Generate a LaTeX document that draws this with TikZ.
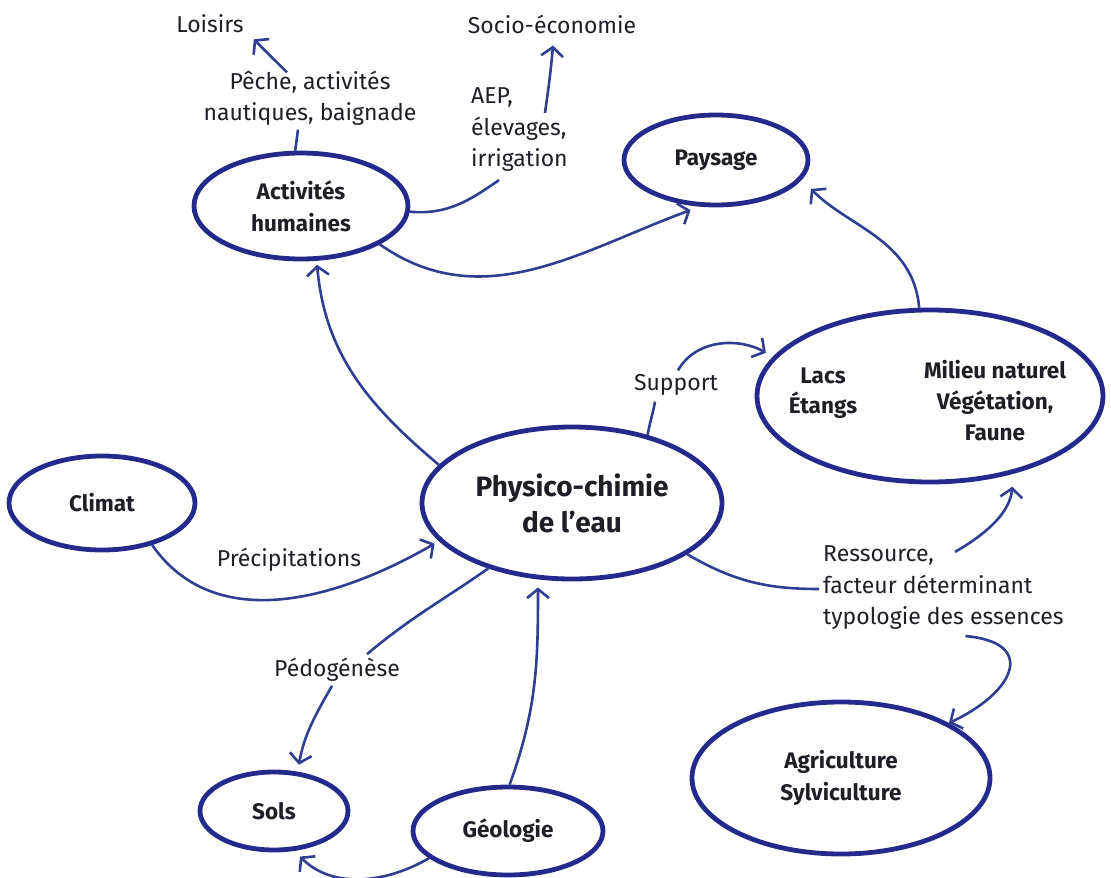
\documentclass[tikz,border=0pt]{standalone}
\usepackage{fontspec}
\setmainfont{Fira Sans}
\usetikzlibrary{arrows.meta,shapes.geometric,calc}
\definecolor{ellc}{RGB}{35,42,140}
\definecolor{arrc}{RGB}{48,62,145}
\definecolor{txtc}{RGB}{30,30,38}
\begin{document}
\begin{tikzpicture}[x=1pt,y=1pt,
  ell/.style={ellipse,draw=ellc,line width=4.8pt,inner sep=0pt,font=\fontsize{22.5}{32}\selectfont\bfseries,text=txtc,align=center},
  lbl/.style={font=\fontsize{23}{31.5}\selectfont,text=txtc,inner sep=2pt},
  conn/.style={draw=arrc,line width=2.6pt},
  arr/.style={conn,-{Straight Barb[length=9pt,width=22pt]}}
]
\useasboundingbox (0,0) rectangle (1111,-878);
% ellipses
\node[ell,minimum width=214pt,minimum height=106pt] (act) at (301,-206) {Activités\\humaines};
\node[ell,minimum width=184pt,minimum height=90pt] (pays) at (716,-160) {Paysage};
\node[ell,minimum width=346pt,minimum height=172pt] (lacs) at (930,-396) {};
\node[font=\fontsize{22.5}{30}\selectfont\bfseries,text=txtc,align=center] (lacst) at (823,-393) {Lacs\\Étangs};
\node[font=\fontsize{22.5}{31}\selectfont\bfseries,text=txtc,align=center] (milt) at (995,-401) {Milieu naturel\\Végétation,\\Faune};
\node[ell,minimum width=300pt,minimum height=152pt,font=\fontsize{28}{36}\selectfont\bfseries] (phys) at (572,-503) {Physico-chimie\\de l’eau};
\node[ell,minimum width=186pt,minimum height=94pt] (clim) at (102,-503) {Climat};
\node[ell,minimum width=148pt,minimum height=78pt] (sols) at (274,-811) {Sols};
\node[ell,minimum width=190pt,minimum height=88pt] (geol) at (508,-831) {Géologie};
\node[ell,minimum width=298pt,minimum height=152pt] (agri) at (841,-778) {Agriculture\\Sylviculture};
% labels
\node[lbl] (loisirs) at (210,-24) {Loisirs};
\node[lbl] (socio) at (552,-24) {Socio-économie};
\node[lbl,align=center] (peche) at (310,-98) {Pêche, activités\\nautiques, baignade};
\node[lbl,align=left,anchor=west] (aep) at (469,-130) {AEP,\\élevages,\\irrigation};
\node[lbl] (support) at (676,-385) {Support};
\node[lbl] (precip) at (289,-560) {Précipitations};
\node[lbl] (pedo) at (337,-670) {Pédogénèse};
\node[lbl,align=left,anchor=west] (ress) at (821,-588) {Ressource,\\facteur déterminant\\typologie des essences};
% connectors
\draw[conn] (act.96) -- ($(peche.south)+(-12,-2)$);
\draw[arr] ($(peche.north)+(-23,-4)$) -- ($(loisirs.south east)+(8,-4)$);
\draw[conn] (act.357) to[out=-5,in=215] ($(aep.south west)+(30,-6)$);
\draw[arr] ($(aep.north west)+(76,-27)$) to[out=82,in=-95] ($(socio.south)+(1,-10)$);
\draw[arr,shorten >=10pt] (act.334) to[out=-35,in=200] (pays.251);
\draw[arr,shorten >=4pt] (phys.164) to[out=140,in=-85] (act.286);
\draw[arr,shorten >=13pt] (lacs.97) to[out=95,in=-45] (pays.-13);
\draw[conn] (phys.42) to[out=80,in=-100] ($(support.south)+(-21,-4)$);
\draw[arr,shorten >=8pt] ($(support.north)+(2,2)$) to[out=60,in=150] (lacs.166);
\draw[arr,shorten >=5pt] (clim.320) to[out=-55,in=210] (phys.196);
\draw[conn] (phys.218) to[out=215,in=40] ($(pedo.north)+(30,2)$);
\draw[arr,shorten >=7pt] ($(pedo.south)+(-5,-2)$) to[out=-120,in=80] (sols.59);
\draw[arr,shorten >=8pt] (geol.88) to[out=70,in=-90] (phys.246);
\draw[arr,shorten >=8pt] (geol.199) to[out=-150,in=-45] (sols.297);
\draw[conn] (phys.336) to[out=-30,in=180] ($(ress.west)+(-2,-1)$);
\draw[arr,shorten >=13pt] ($(ress.north west)+(134,-8)$) to[out=30,in=-95] (lacs.317);
\draw[arr] ($(ress.south)+(22,-4)$) to[out=-5,in=25,looseness=2.1] (agri.27);
\end{tikzpicture}
\end{document}
